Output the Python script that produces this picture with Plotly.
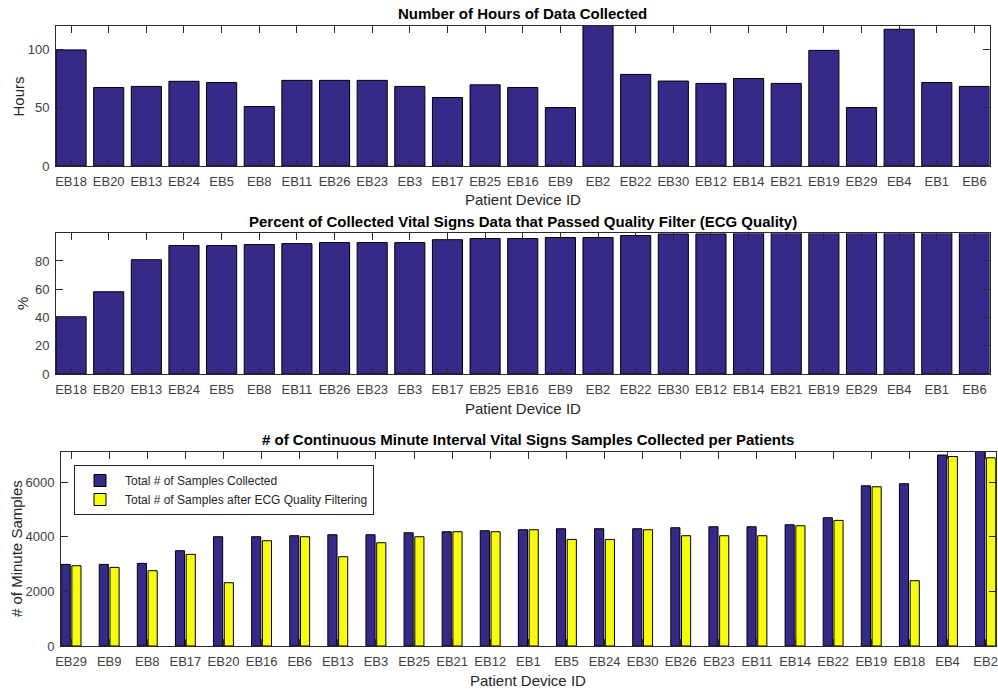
import plotly.graph_objects as go

# ---------------- data ----------------
hours_ids = ["EB18", "EB20", "EB13", "EB24", "EB5", "EB8", "EB11", "EB26", "EB23", "EB3",
             "EB17", "EB25", "EB16", "EB9", "EB2", "EB22", "EB30", "EB12", "EB14", "EB21",
             "EB19", "EB29", "EB4", "EB1", "EB6"]
hours_vals = [99.5, 67.3, 68.2, 72.6, 71.6, 51.0, 73.4, 73.4, 73.4, 68.2,
              58.7, 69.6, 67.3, 50.1, 125.0, 78.5, 72.8, 70.8, 75.0, 70.8,
              99.1, 50.1, 117.2, 71.6, 68.2]

pct_ids = hours_ids
pct_vals = [40.5, 58.2, 80.9, 90.9, 90.9, 91.6, 92.3, 93.0, 93.0, 93.0,
            95.1, 95.9, 95.9, 96.6, 96.6, 98.0, 99.2, 99.2, 100, 100,
            100, 100, 100, 100, 100]

samp_ids = ["EB29", "EB9", "EB8", "EB17", "EB20", "EB16", "EB6", "EB13", "EB3", "EB25",
            "EB21", "EB12", "EB1", "EB5", "EB24", "EB30", "EB26", "EB23", "EB11", "EB14",
            "EB22", "EB19", "EB18", "EB4", "EB2"]
samp_total = [2988, 2988, 3024, 3488, 4000, 4000, 4037, 4073, 4073, 4146,
              4183, 4220, 4256, 4293, 4293, 4293, 4329, 4366, 4366, 4439,
              4695, 5866, 5939, 6990, 7400]
samp_filtered = [2939, 2878, 2756, 3354, 2317, 3854, 4000, 3268, 3780, 4000,
                 4183, 4183, 4256, 3902, 3902, 4256, 4037, 4037, 4037, 4402,
                 4598, 5829, 2390, 6936, 6890]

BLUE = "#352A87"
YELLOW = "#F9FB0E"
FONT = "Liberation Sans, Arial, sans-serif"
TICKCOL = "#404040"
LINECOL = "#2b2b2b"

W, H = 998, 690

def px_x(p):
    return p / W

def px_y(p):
    return 1 - p / H

fig = go.Figure()

fig.add_trace(go.Bar(x=hours_ids, y=hours_vals, marker=dict(color=BLUE, line=dict(color="black", width=1)),
                     xaxis="x", yaxis="y", showlegend=False))
fig.add_trace(go.Bar(x=pct_ids, y=pct_vals, marker=dict(color=BLUE, line=dict(color="black", width=1)),
                     xaxis="x2", yaxis="y2", showlegend=False))
fig.add_trace(go.Bar(x=samp_ids, y=samp_total, name="Total # of Samples Collected",
                     marker=dict(color=BLUE, line=dict(color="black", width=1)),
                     xaxis="x3", yaxis="y3", offsetgroup="a"))
fig.add_trace(go.Bar(x=samp_ids, y=samp_filtered, name="Total # of Samples after ECG Quality Filtering",
                     marker=dict(color=YELLOW, line=dict(color="black", width=1)),
                     xaxis="x3", yaxis="y3", offsetgroup="b"))

tickfont = dict(family=FONT, size=13, color=TICKCOL)

def xax(domain, anchor, rng):
    return dict(domain=domain, anchor=anchor, type="category", range=rng, automargin=False,
                showline=True, linecolor=LINECOL, linewidth=1, mirror="ticks",
                ticks="inside", ticklen=7, tickcolor=LINECOL, tickfont=tickfont,
                showgrid=False, zeroline=False, ticklabelstandoff=3)

def yax(domain, anchor, rng, tickvals):
    return dict(domain=domain, anchor=anchor, range=rng, tickvals=tickvals, automargin=False,
                showline=True, linecolor=LINECOL, linewidth=1, mirror="ticks",
                ticks="inside", ticklen=7, tickcolor=LINECOL, tickfont=tickfont,
                showgrid=False, zeroline=False, ticklabelstandoff=3)

fig.update_layout(
    template="none",
    width=W, height=H,
    margin=dict(l=0, r=0, t=0, b=0, pad=0),
    paper_bgcolor="white", plot_bgcolor="white",
    barmode="group", bargap=0.2,
    xaxis=xax([px_x(56), px_x(989.5)], "y", [-0.4, 24.4]),
    yaxis=yax([px_y(166), px_y(26)], "x", [0, 120], [0, 50, 100]),
    xaxis2=xax([px_x(56), px_x(989.5)], "y2", [-0.4, 24.4]),
    yaxis2=yax([px_y(374), px_y(233.3)], "x2", [0, 99.6], [0, 20, 40, 60, 80]),
    xaxis3=xax([px_x(61), px_x(995.7)], "y3", [-0.265, 24.265]),
    yaxis3=yax([px_y(646), px_y(451.5)], "x3", [0, 7120], [0, 2000, 4000, 6000]),
    legend=dict(x=px_x(74), y=px_y(465), xanchor="left", yanchor="top",
                bgcolor="white", bordercolor="#262626", borderwidth=1,
                font=dict(family=FONT, size=12, color="#262626"),
                tracegroupgap=0, itemwidth=40),
    showlegend=True,
    font=dict(family=FONT),
)

# bar widths for the grouped chart (third subplot)
fig.update_traces(selector=dict(xaxis="x3"), width=0.24)
fig.data[2].offset = -0.262
fig.data[3].offset = 0.02

titles = [("Number of Hours of Data Collected", 522, 14),
          ("Percent of Collected Vital Signs Data that Passed Quality Filter (ECG Quality)", 523, 222),
          ("# of Continuous Minute Interval Vital Signs Samples Collected per Patients", 528, 439)]
for txt, cx, cy in titles:
    fig.add_annotation(text="<b>" + txt + "</b>", x=px_x(cx), y=px_y(cy), xref="paper", yref="paper",
                       showarrow=False, xanchor="center", yanchor="middle",
                       font=dict(family=FONT, size=15, color="black"))

axis_titles = [("Patient Device ID", 523, 199, 0),
               ("Patient Device ID", 523, 409, 0),
               ("Patient Device ID", 528, 680, 0),
               ("Hours", 17.5, 97, -90),
               ("%", 22.5, 303.5, -90),
               ("# of Minute Samples", 16.5, 548.5, -90)]
for txt, cx, cy, ang in axis_titles:
    fig.add_annotation(text=txt, x=px_x(cx), y=px_y(cy), xref="paper", yref="paper",
                       showarrow=False, xanchor="center", yanchor="middle", textangle=ang,
                       font=dict(family=FONT, size=15, color="#262626"))

fig.write_html("out.html", config={"displayModeBar": False})
